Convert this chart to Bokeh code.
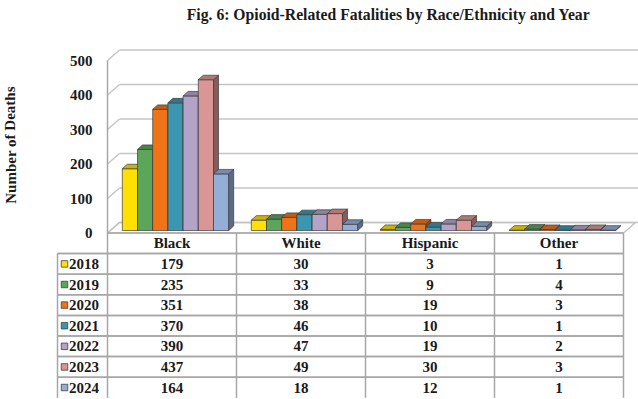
from bokeh.plotting import figure
from bokeh.models import Range1d, ColumnDataSource
from bokeh.core.properties import value
from bokeh.embed import file_html
from bokeh.resources import INLINE

# ---- data -------------------------------------------------------------
title = "Fig. 6: Opioid-Related Fatalities by Race/Ethnicity and Year"
y_label = "Number of Deaths"
groups = ["Black", "White", "Hispanic", "Other"]
years = ["2018", "2019", "2020", "2021", "2022", "2023", "2024"]
deaths_2018 = [179, 30, 3, 1]
deaths_2019 = [235, 33, 9, 4]
deaths_2020 = [351, 38, 19, 3]
deaths_2021 = [370, 46, 10, 1]
deaths_2022 = [390, 47, 19, 2]
deaths_2023 = [437, 49, 30, 3]
deaths_2024 = [164, 18, 12, 1]
y_ticks = [0, 100, 200, 300, 400, 500]

series = [deaths_2018, deaths_2019, deaths_2020, deaths_2021,
          deaths_2022, deaths_2023, deaths_2024]
year_colors = ["#FFE000", "#5CA65C", "#F07318", "#3B97B0",
               "#B3A3C9", "#D99694", "#95AED7"]

# ---- layout (pixels) --------------------------------------------------
W, H = 638, 399
X0_PX = 107.0        # left edge of the floor / first column
PX_PER_CAT = 129.0   # width of one category column
Y0_PX = 232.5        # front edge of the floor (value 0)
PX_PER_DEATH = 0.345
ROW_PX = 20.6        # height of one table row
WALL_DX, WALL_DY = 12.0, 10.5   # depth of floor and walls
BAR_PX = 15.2
BAR_DX, BAR_DY = 5.0, 4.5       # depth of each column
SHIFT_DX, SHIFT_DY = 3.5, 2.5   # columns sit mid-depth on the floor

FONT = value("Liberation Serif")
GRID = "#C4C4C4"
RULE = "#A6A6A6"


def hx(px):
    return px / PX_PER_CAT


def hy(px):
    return px / PX_PER_DEATH


def shade(hex_color, f):
    r, g, b = (int(hex_color[k:k + 2], 16) for k in (1, 3, 5))
    return "#%02x%02x%02x" % (int(r * f), int(g * f), int(b * f))


x_range = Range1d(-X0_PX / PX_PER_CAT, (W - X0_PX) / PX_PER_CAT)
y_range = Range1d(-(H - Y0_PX) / PX_PER_DEATH, Y0_PX / PX_PER_DEATH)

p = figure(width=W, height=H, x_range=x_range, y_range=y_range,
           output_backend="svg", toolbar_location=None,
           x_axis_location=None, y_axis_location=None, min_border=0)
p.grid.visible = False
p.outline_line_color = None
p.background_fill_color = "white"
p.extra_y_ranges = {"table": Range1d(start=(H - Y0_PX) / ROW_PX,
                                     end=-Y0_PX / ROW_PX)}

n_cat = len(groups)
ddx, ddy = hx(WALL_DX), hy(WALL_DY)
top = y_ticks[-1]

# floor
p.patch([0, n_cat, n_cat + ddx, ddx], [0, 0, ddy, ddy],
        fill_color="white", line_color=GRID, line_width=1.5)

# gridlines on the back wall and the side wall
p.segment(x0=[ddx] * len(y_ticks), y0=[t + ddy for t in y_ticks],
          x1=[x_range.end] * len(y_ticks), y1=[t + ddy for t in y_ticks],
          line_color=GRID, line_width=1.6)
p.segment(x0=[0] * len(y_ticks), y0=y_ticks,
          x1=[ddx] * len(y_ticks), y1=[t + ddy for t in y_ticks],
          line_color=GRID, line_width=1.4)
p.segment(x0=[0], y0=[0], x1=[0], y1=[top], line_color=RULE, line_width=1.5)

# 3-D columns: front, side and top faces drawn bar by bar
bw = hx(BAR_PX)
gap = (1 - len(years) * bw) / 2
bdx, bdy = hx(BAR_DX), hy(BAR_DY)
xs, ys, fills = [], [], []
for i in range(n_cat):
    for j, vals in enumerate(series):
        v = vals[i]
        xl = i + gap + hx(SHIFT_DX) + j * bw
        xr = xl + bw
        y0 = hy(SHIFT_DY)
        y1 = y0 + v
        c = year_colors[j]
        xs += [[xl, xr, xr, xl],
               [xr, xr + bdx, xr + bdx, xr],
               [xl, xr, xr + bdx, xl + bdx]]
        ys += [[y0, y0, y1, y1],
               [y0, y0 + bdy, y1 + bdy, y1],
               [y1, y1, y1 + bdy, y1 + bdy]]
        fills += [c, shade(c, 0.62), shade(c, 0.8)]
p.patches(xs="xs", ys="ys", fill_color="fill",
          source=ColumnDataSource(dict(xs=xs, ys=ys, fill=fills)),
          line_color="#3C3C3C", line_width=0.7)

# value labels on the left
p.text(x=[hx(-15)] * len(y_ticks), y=y_ticks, text=[str(t) for t in y_ticks],
       text_font=FONT, text_font_style="bold", text_font_size="15px",
       text_align="right", text_baseline="middle", text_color="#1a1a1a")
p.text(x=[hx(10 - X0_PX)], y=[hy(Y0_PX - 144.5)], text=[y_label], angle=1.5708,
       text_font=FONT, text_font_style="bold", text_font_size="15px",
       text_align="center", text_baseline="middle", text_color="#1a1a1a")
p.text(x=[hx(388 - X0_PX)], y=[hy(Y0_PX - 14)], text=[title],
       text_font=FONT, text_font_style="bold", text_font_size="15.7px",
       text_align="center", text_baseline="middle", text_color="#1a1a1a")

# data table
n_rows = len(years)
left = hx(57 - X0_PX)
p.segment(x0=[0] + [left] * n_rows, y0=list(range(0, n_rows + 1)),
          x1=[n_cat] * (n_rows + 1), y1=list(range(0, n_rows + 1)),
          line_color=RULE, line_width=1.5, y_range_name="table")
p.segment(x0=[left] * n_rows, y0=list(range(1, n_rows + 1)),
          x1=[n_cat] * n_rows, y1=list(range(1, n_rows + 1)),
          line_color=RULE, line_width=1.5, y_range_name="table")
p.segment(x0=list(range(n_cat + 1)), y0=[0] * (n_cat + 1),
          x1=list(range(n_cat + 1)), y1=[n_rows + 1] * (n_cat + 1),
          line_color=RULE, line_width=1.5, y_range_name="table")
p.segment(x0=[left], y0=[1], x1=[left], y1=[n_rows + 1],
          line_color=RULE, line_width=1.5, y_range_name="table")

p.text(x=[i + 0.5 for i in range(n_cat)], y=[0.5] * n_cat, text=groups,
       text_font=FONT, text_font_style="bold", text_font_size="15px",
       text_align="center", text_baseline="middle", text_color="#1a1a1a",
       y_range_name="table")
p.scatter(x=[hx(64 - X0_PX)] * n_rows, y=[r + 1.5 for r in range(n_rows)],
          marker="square", size=6.5, fill_color=year_colors,
          line_color="#404040", line_width=0.8, y_range_name="table")
p.text(x=[hx(68.5 - X0_PX)] * n_rows, y=[r + 1.5 for r in range(n_rows)],
       text=years, text_font=FONT, text_font_style="bold",
       text_font_size="15px", text_align="left", text_baseline="middle",
       text_color="#1a1a1a", y_range_name="table")

cell_x, cell_y, cell_t = [], [], []
for r, vals in enumerate(series):
    for i, v in enumerate(vals):
        cell_x.append(i + 0.5)
        cell_y.append(r + 1.5)
        cell_t.append(str(v))
p.text(x=cell_x, y=cell_y, text=cell_t, text_font=FONT,
       text_font_style="bold", text_font_size="15px", text_align="center",
       text_baseline="middle", text_color="#1a1a1a", y_range_name="table")

open("out.html", "w").write(file_html(p, INLINE))
